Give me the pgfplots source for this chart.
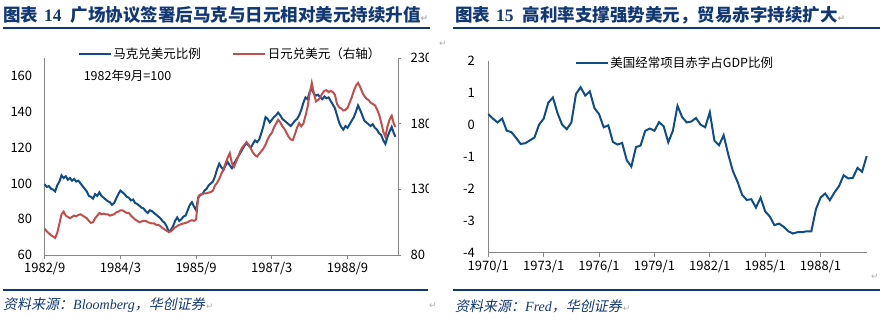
\documentclass[border=0pt]{standalone}
\usepackage{fontspec}
\usepackage{pgfplots}
\pgfplotsset{compat=1.18}
\setmainfont{Noto Sans CJK SC}
\newfontfamily\serifb{Liberation Serif}
\newfontfamily\srcit[FakeSlant=0.2]{Noto Sans CJK SC}
\newfontfamily\lserif{Liberation Serif}
\newfontfamily\dejavu{DejaVu Sans}
\definecolor{navy}{RGB}{18,56,116}
\definecolor{dmblue}{RGB}{16,76,136}
\definecolor{yenred}{RGB}{192,80,77}
\definecolor{axgray}{RGB}{134,134,134}
\definecolor{markgray}{RGB}{175,175,175}
\newcommand{\retmark}{{\dejavu\fontsize{9}{10}\selectfont\textcolor{markgray}{↵}}}

\pgfplotstableread{
m v
0 99.5
0.5 98
1 98.5
1.5 97
2 96.5
2.5 95.5
3 99
3.5 101
4 104.5
4.5 103
5 104
5.5 102
6 103
6.5 101.5
7 102.5
7.5 101
8 101.5
8.5 100
9 98.5
9.5 97
10 95.5
10.5 93
11 92.5
11.5 91.5
12 94
12.5 93
13 95
13.5 93
14 92
14.5 91
15 90
15.5 89.5
16 88
16.5 89
17 91.5
17.5 94
18 96
18.5 95
19 94
19.5 92.5
20 92
20.5 90.5
21 91
21.5 89
22 88.5
22.5 87.5
23 86.5
23.5 86
24 84.5
24.5 83.5
25 85
25.5 84.5
26 83.5
26.5 82.5
27 81.5
27.5 80.5
28 79
28.5 78
29 76
29.5 73
30 74
30.5 76
31 79
31.5 81
32 79
32.5 80
33 81.5
33.5 82
34 85
34.5 88
35 89.5
35.5 87
36 85
36.5 92
37 93.5
37.5 94
38 96
38.5 97
39 99
39.5 100
40 101
40.5 104
41 108
41.5 111
42 109
42.5 107.5
43 110
43.5 112
44 110
44.5 108.5
45 111
45.5 113
46 115
46.5 117
47 119
47.5 121
48 122.5
48.5 121
49 120
49.5 122
50 124
50.5 123
51 124.5
51.5 128
52 132
52.5 137
53 136
53.5 134
54 135.5
54.5 137
55 138
55.5 139.5
56 138
56.5 136
57 135
57.5 134
58 133
58.5 132
59 133.5
59.5 135
60 136
60.5 138
61 141
61.5 145
62 148
62.5 147
63 151
63.5 153
64 150
64.5 149
65 149.5
65.5 148
66 147
66.5 148.5
67 147.5
67.5 148
68 146
68.5 144
69 142
69.5 138
70 134
70.5 131.5
71 130
71.5 132
72 131
72.5 133
73 135
73.5 137
74 140
74.5 143.5
75 141
75.5 138
76 135
76.5 134
77 133
77.5 132
78 133
78.5 131
79 130
79.5 128
80 127
80.5 124
81 122
81.5 126
82 129
82.5 131.5
83 128
83.4 126
}\dmtable

\pgfplotstableread{
m v
0 100
0.5 98
1 96.5
1.5 95
2 94
2.5 93
3 97
3.5 104
4 111
4.5 113
5 110
5.5 109
6 108
6.5 109
7 110
7.5 109.5
8 110.5
8.5 111
9 110
9.5 109
10 108
10.5 106
11 104.5
11.5 105
12 108
12.5 110
13 112
13.5 111
14 111.5
14.5 111
15 111
15.5 110
16 110.5
16.5 111
17 112.5
17.5 113
18 114
18.5 114
19 113
19.5 112
20 112
20.5 110
21 108.5
21.5 107
22 106
22.5 105
23 105.5
23.5 106
24 106
24.5 105
25 104.5
25.5 104
26 104
26.5 103
27 103
27.5 102
28 100.5
28.5 99.5
29 98.5
29.5 97.5
30 98
30.5 99.5
31 101
31.5 102
32 103
32.5 103.5
33 104
33.5 104.5
34 105
34.5 106
35 106.5
35.5 106
36 107
36.3 118
36.6 125
37 126
37.5 126.5
38 127
38.5 127
39 127.5
39.5 128
40 129
40.5 133
41 135
41.5 138
42 142
42.5 145
43 150
43.5 154
44 157.5
44.5 150
45 147
45.5 151
46 155
46.5 159
47 162
47.5 164
48 166
48.5 164
49 161
49.5 158
50 156
50.5 155
51 157
51.5 159
52 161
52.5 164
53 168
53.5 171
54 173
54.5 177
55 180
55.5 183
56 181
56.5 178
57 176
57.5 173
58 170
58.5 168
59 167.5
59.5 172
60 177
60.5 180.5
61 178
61.5 180
62 186
62.5 192.5
63 203
63.5 211
64 203
64.5 197
65 198
65.5 200
66 203
66.5 205
67 205.5
67.5 204
68 205
68.5 204
69 202
69.5 195
70 192.5
70.5 191.5
71 190
71.5 190.5
72 192
72.5 196
73 200
73.5 205
74 209
74.5 211
75 208
75.5 204
76 201
76.5 199
77 198
77.5 196
78 195
78.5 194
79 191
79.5 187
80 181
80.5 174
81 170
81.5 178
82 183
82.5 186
83 180
83.4 177.5
}\yentable

\pgfplotstableread{
t v
0 0.33
0.25 0.19
0.5 0.07
0.75 0.19
1.0 -0.19
1.25 -0.23
1.5 -0.41
1.75 -0.60
2.0 -0.58
2.25 -0.49
2.5 -0.40
2.75 0.0
3.0 0.19
3.25 0.69
3.5 0.85
3.75 0.36
4.0 0.0
4.25 -0.14
4.5 0.07
4.75 0.96
5.0 1.17
5.25 0.91
5.5 1.04
5.75 0.52
6.0 0.33
6.25 -0.08
6.5 -0.02
6.75 -0.54
7.0 -0.62
7.25 -0.57
7.5 -1.11
7.75 -1.31
8.0 -0.70
8.25 -0.65
8.5 -0.19
8.75 -0.12
9.0 -0.19
9.25 0.08
9.5 -0.05
9.75 -0.55
10.0 -0.19
10.25 0.59
10.5 0.24
10.75 0.07
11.0 0.10
11.25 0.21
11.5 0.0
11.75 -0.08
12.0 0.39
12.25 -0.50
12.5 -0.64
12.75 -0.33
13.0 -0.93
13.25 -1.45
13.5 -1.78
13.75 -2.19
14.0 -2.35
14.25 -2.33
14.5 -2.59
14.75 -2.28
15.0 -2.71
15.25 -2.87
15.5 -3.14
15.75 -3.09
16.0 -3.19
16.25 -3.33
16.5 -3.40
16.75 -3.36
17.0 -3.36
17.25 -3.33
17.5 -3.33
17.75 -2.64
18.0 -2.28
18.25 -2.15
18.5 -2.36
18.75 -2.12
19.0 -1.92
19.25 -1.58
19.5 -1.68
19.75 -1.66
20.0 -1.35
20.25 -1.47
20.5 -0.98
}\catable

\pgfplotsset{
  mystyle/.style={
    scale only axis,
    anchor=south west,
    axis line style={axgray, line width=0.8pt},
    tick style={axgray, line width=0.8pt},
    tick align=outside,
    major tick length=4pt,
    ticklabel style={font=\fontsize{13}{15}\selectfont, text=black},
    /pgf/number format/assume math mode=true,
    clip=false,
    legend style={draw=none, fill=none, inner sep=0pt, outer sep=0pt,
      font=\fontsize{12.5}{14}\selectfont, legend columns=2,
      nodes={inner sep=1.5pt}},
    legend image code/.code={\draw[##1] (0pt,0pt) -- (32pt,0pt);},
  }
}

\begin{document}
\begin{tikzpicture}
\path[use as bounding box] (0pt,0pt) rectangle (893pt,325pt);

% titles
\node[anchor=west, inner sep=0pt, text=navy] at (3pt,310pt)
  {\fontsize{17.5}{20}\selectfont\bfseries 图表\hspace{6pt}{\serifb\bfseries 14}\hspace{9pt}广场协议签署后马克与日元相对美元持续升值\retmark};
\node[anchor=west, inner sep=0pt, text=navy] at (455pt,310pt)
  {\fontsize{17.5}{20}\selectfont\bfseries 图表\hspace{6pt}{\serifb\bfseries 15}\hspace{9pt}高利率支撑强势美元，贸易赤字持续扩大\retmark};
\draw[navy, line width=1.3pt] (3pt,297pt) -- (430pt,297pt);
\draw[navy, line width=1.3pt] (453pt,297pt) -- (880pt,297pt);
\draw[navy, line width=1.3pt] (3pt,35pt) -- (428pt,35pt);
\draw[navy, line width=1.3pt] (453pt,35pt) -- (880pt,35pt);

% sources
\node[anchor=west, inner sep=0pt, text=navy] at (3pt,20pt)
  {\fontsize{14}{16}\selectfont\srcit 资料来源：{\lserif\itshape Bloomberg}，华创证券\hspace{1pt}\retmark};
\node[anchor=west, inner sep=0pt, text=navy] at (455pt,19pt)
  {\fontsize{14}{16}\selectfont\srcit 资料来源：{\lserif\itshape Fred}，华创证券\hspace{1pt}\retmark};
\node[anchor=center, inner sep=0pt] at (433pt,19pt) {\retmark};
\node[anchor=center, inner sep=0pt] at (443pt,281pt) {\retmark};
\node[anchor=center, inner sep=0pt] at (875pt,48pt) {\retmark};

\begin{scope}
\clip (0pt,0pt) rectangle (428pt,325pt);
\begin{axis}[mystyle,
  at={(44.7pt,70pt)}, width=353.3pt, height=197pt,
  xmin=0, xmax=84, ymin=60, ymax=170,
  axis x line*=bottom, axis y line*=left,
  xtick={0,18,36,54,72}, xticklabels={1982/9,1984/3,1985/9,1987/3,1988/9},
  ytick={60,80,100,120,140,160}, yticklabels={60,80,100,120,140,160},
  ytick style={draw=none},
  yticklabel style={xshift=-5pt},
  legend style={at={(axis description cs:0.094,1.02)}, anchor=west,
    /tikz/every even column/.append style={column sep=30pt}},
]
\addplot[dmblue, line width=2pt] table[x=m, y=v] {\dmtable};
\addlegendentry{马克兑美元比例}
\addlegendimage{yenred, line width=2pt}
\addlegendentry{日元兑美元（右轴）}
\node[anchor=west, inner sep=0pt, font=\fontsize{12.5}{14}\selectfont] at (axis description cs:0.11,0.91) {1982年9月=100};
\end{axis}
\begin{axis}[mystyle,
  at={(44.7pt,70pt)}, width=353.3pt, height=197pt,
  xmin=0, xmax=84, ymin=80, ymax=230,
  axis x line=none, axis y line*=right,
  major tick length=3pt,
  ytick={80,130,180,230}, yticklabels={80,130,180,230},
  yticklabel style={xshift=6pt},
]
\addplot[yenred, line width=2pt] table[x=m, y=v] {\yentable};
\end{axis}
\end{scope}

\begin{axis}[mystyle,
  at={(488.3pt,72.3pt)}, width=378.4pt, height=192pt,
  xmin=0, xmax=20.5, ymin=-4, ymax=2,
  axis x line*=bottom, axis y line*=left,
  xtick={0,3,6,9,12,15,18}, xticklabels={1970/1,1973/1,1976/1,1979/1,1982/1,1985/1,1988/1},
  ytick={-4,-3,-2,-1,0,1,2}, yticklabels={-4,-3,-2,-1,0,1,2},
  ytick style={draw=none},
  yticklabel style={xshift=-6pt},
  legend style={at={(axis description cs:0.229,0.99)}, anchor=west},
]
\addplot[dmblue, line width=2pt] table[x=t, y=v] {\catable};
\addlegendentry{美国经常项目赤字占GDP比例}
\end{axis}
\end{tikzpicture}
\end{document}
